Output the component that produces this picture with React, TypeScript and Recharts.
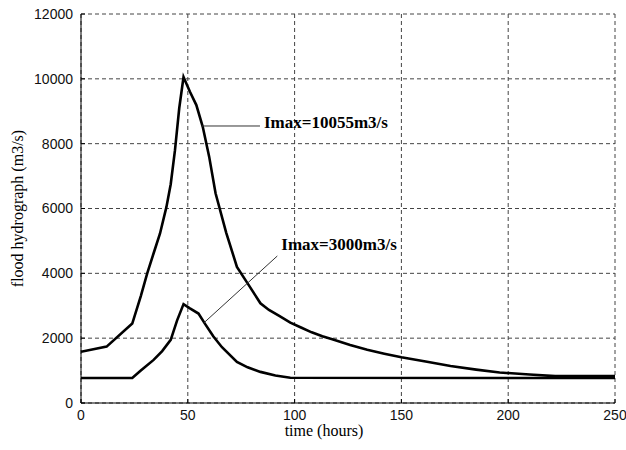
import {
  CartesianGrid,
  Label,
  Line,
  LineChart,
  ReferenceLine,
  XAxis,
  YAxis,
} from "recharts";

const hourTicks = [0, 50, 100, 150, 200, 250];
const flowTicks = [0, 2000, 4000, 6000, 8000, 10000, 12000];

// large event, peak 10055 m3/s
const largeHours = [
  0, 12, 24, 28, 31, 34, 37, 40, 42, 44, 46, 48, 51, 54, 57, 60, 63, 68, 73, 78, 84, 88, 93, 98,
  103, 108, 113, 118, 126, 134, 142, 150, 162, 173, 185, 196, 210, 222, 235, 250,
];
const largeFlow = [
  1580, 1740, 2450, 3300, 4000, 4620, 5230, 6050, 6750, 7800, 9100, 10055, 9600, 9190, 8520, 7600,
  6470, 5250, 4200, 3690, 3075, 2870, 2680, 2480, 2330, 2180, 2060, 1960, 1790, 1640, 1520, 1410,
  1270, 1140, 1030, 940, 880, 830, 830, 830,
];

// small event, peak 3000 m3/s
const smallHours = [0, 24, 28, 34, 38, 42, 45, 48, 51, 55, 58, 62, 66, 73, 78, 84, 91, 98, 250];
const smallFlow = [
  770, 770, 1000, 1330, 1600, 1950, 2550, 3050, 2920, 2760, 2450, 2050, 1720, 1270, 1100, 960, 850,
  780, 770,
];

const largeNote = { text: "Imax=10055m3/s", from: [56.5, 8545], to: [83.8, 8545] };
const smallNote = { text: "Imax=3000m3/s", from: [57.6, 2477], to: [91.9, 4535] };

const largeData = largeHours.map((t, i) => ({ t, q: largeFlow[i] }));
const smallData = smallHours.map((t, i) => ({ t, q: smallFlow[i] }));

const tickStyle = { fill: "#111", fontSize: 14, fontFamily: "Liberation Sans, Arial, sans-serif" };
const serif = "Liberation Serif, Times New Roman, serif";

function NoteText({ viewBox, value, dy }: any) {
  const x = viewBox.x + viewBox.width + 4;
  const y = viewBox.y + dy;
  return (
    <text x={x} y={y} fontFamily={serif} fontWeight="bold" fontSize={17} fill="#000">
      {value}
    </text>
  );
}

function YTitle({ viewBox }: any) {
  const x = viewBox.x + 17;
  const y = viewBox.y + viewBox.height / 2;
  return (
    <text
      x={x}
      y={y}
      transform={`rotate(-90 ${x} ${y})`}
      textAnchor="middle"
      dominantBaseline="central"
      fontFamily={serif}
      fontSize={16}
      fill="#000"
    >
      flood hydrograph (m3/s)
    </text>
  );
}

function XTitle({ viewBox }: any) {
  const x = viewBox.x + viewBox.width / 2 - 24;
  const y = viewBox.y + 33;
  return (
    <text x={x} y={y} textAnchor="middle" fontFamily={serif} fontSize={16} fill="#000">
      time (hours)
    </text>
  );
}

export default function App() {
  return (
    <div style={{ position: "absolute", left: 0, top: 0, background: "#fff" }}>
      <LineChart width={626} height={450} margin={{ top: 14, right: 11, bottom: 0, left: 0 }}>
        <CartesianGrid stroke="#444" strokeDasharray="4 3" />
        <XAxis
          dataKey="t"
          type="number"
          domain={[0, 250]}
          ticks={hourTicks}
          height={47}
          stroke="#000"
          tickSize={-4}
          tickMargin={11}
          tick={tickStyle}
          allowDataOverflow
        >
          <Label content={<XTitle />} />
        </XAxis>
        <XAxis
          xAxisId="top"
          orientation="top"
          type="number"
          domain={[0, 250]}
          ticks={hourTicks}
          height={0}
          stroke="#000"
          tickSize={-4}
          tick={false}
        />
        <YAxis
          type="number"
          domain={[0, 12000]}
          ticks={flowTicks}
          width={81}
          stroke="#000"
          tickSize={-4}
          tickMargin={12}
          tick={tickStyle}
          allowDataOverflow
        >
          <Label content={<YTitle />} />
        </YAxis>
        <YAxis
          yAxisId="right"
          orientation="right"
          type="number"
          domain={[0, 12000]}
          ticks={flowTicks}
          width={0}
          stroke="#000"
          tickSize={-4}
          tick={false}
        />
        <Line
          data={largeData}
          dataKey="q"
          type="linear"
          stroke="#000"
          strokeWidth={2.6}
          dot={false}
          isAnimationActive={false}
        />
        <Line
          data={smallData}
          dataKey="q"
          type="linear"
          stroke="#000"
          strokeWidth={2.6}
          dot={false}
          isAnimationActive={false}
        />
        <ReferenceLine
          segment={[
            { x: largeNote.from[0], y: largeNote.from[1] },
            { x: largeNote.to[0], y: largeNote.to[1] },
          ]}
          stroke="#333"
          strokeWidth={1}
          label={<NoteText value={largeNote.text} dy={2} />}
        />
        <ReferenceLine
          segment={[
            { x: smallNote.from[0], y: smallNote.from[1] },
            { x: smallNote.to[0], y: smallNote.to[1] },
          ]}
          stroke="#333"
          strokeWidth={1}
          label={<NoteText value={smallNote.text} dy={-6} />}
        />
      </LineChart>
    </div>
  );
}
